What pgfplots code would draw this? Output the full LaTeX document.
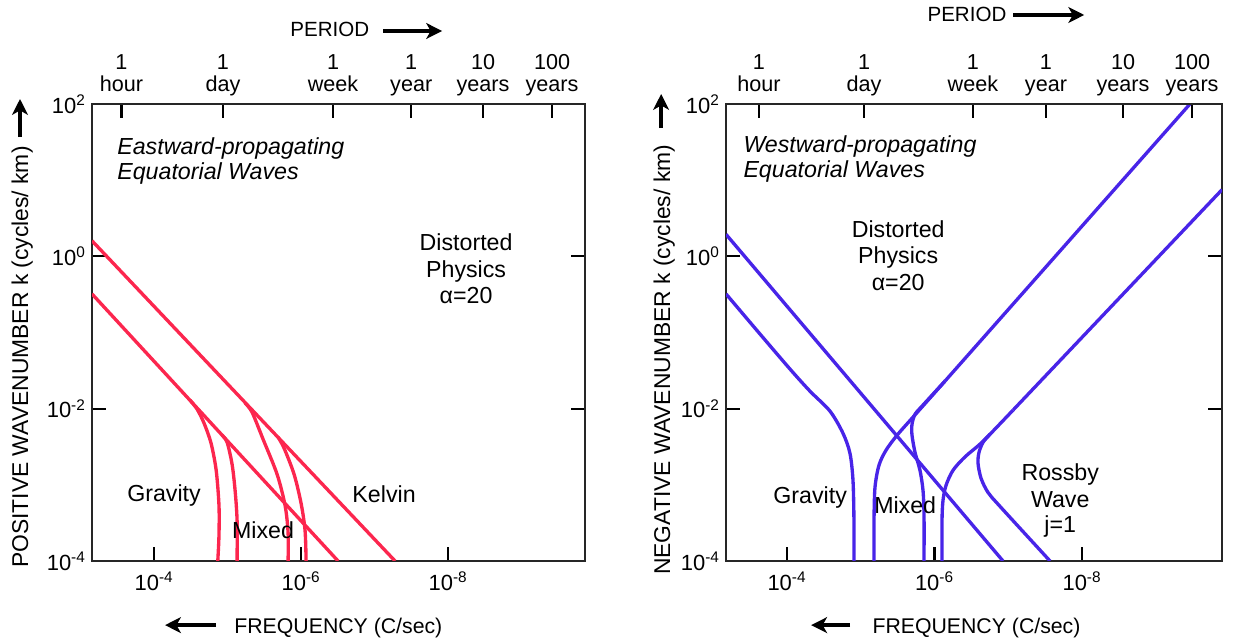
\documentclass[border=0pt]{standalone}
\usepackage{fontspec}
\setmainfont{Liberation Sans}
\usepackage{pgfplots}
\pgfplotsset{compat=1.18}
\usetikzlibrary{arrows.meta}

\definecolor{eastred}{RGB}{252,38,78}
\definecolor{westblue}{RGB}{72,36,232}

\newcommand\tickfont{\fontsize{12.5}{13}\selectfont}
\newcommand\perfont{\fontsize{12.3}{12.6}\selectfont}
\newcommand\labfont{\fontsize{13.2}{15}\selectfont}
\newcommand\labit{\fontsize{13.2}{15}\selectfont\itshape}
\newcommand\ylabfont{\fontsize{13}{15}\selectfont}
\newcommand\xlabfont{\fontsize{12.1}{14}\selectfont}
\newcommand\perhead{\fontsize{11.7}{14}\selectfont}

\tikzset{
  eastline/.style={eastred, line width=1.9pt},
  westline/.style={westblue, line width=1.9pt},
  bigarrow/.style={line width=2.1pt, -{Stealth[length=9pt,width=9pt,inset=2.5pt]}},
}

\begin{document}
\begin{tikzpicture}
\path[use as bounding box] (0,0) rectangle (24.66,12.8);

% eastward waves
\begin{axis}[
  at={(1.84cm,1.58cm)}, anchor=south west, scale only axis,
  width=9.86cm, height=9.14cm,
  xmode=log, ymode=log, x dir=reverse,
  xmin=1.37e-10, xmax=7e-4, ymin=1e-4, ymax=1e2,
  xtick={1e-4,1e-6,1e-8},
  xticklabels={10\textsuperscript{-4},10\textsuperscript{-6},10\textsuperscript{-8}},
  ytick={1e-4,1e-2,1,1e2},
  yticklabels={10\textsuperscript{-4},10\textsuperscript{-2},10\textsuperscript{0},10\textsuperscript{2}},
  xtick pos=lower, yticklabel pos=left,
  tick align=inside, major tick length=0.28cm,
  minor tick num=0,
  tick style={line width=1.2pt, black},
  axis line style={line width=1pt, black!85},
  ticklabel style={font=\tickfont},
  xticklabel style={yshift=-0.1cm},
]
\addplot[eastline] coordinates {(7e-4,1.60) (5.26e-8,1e-4)};
\addplot[eastline] coordinates {(7e-4,0.321) (3.14e-7,1e-4)};
\addplot[eastline, smooth] coordinates {
  (3.24e-5,1.29e-2) (2.60e-5,9.84e-3) (2.09e-5,6.44e-3) (1.68e-5,3.52e-3)
  (1.43e-5,1.55e-3) (1.31e-5,5.37e-4) (1.31e-5,2.17e-4) (1.36e-5,1e-4)};
\addplot[eastline, smooth] coordinates {
  (1.19e-5,4.48e-3) (1.016e-5,3.62e-3) (8.69e-6,1.862e-3) (7.91e-6,8.47e-4)
  (7.43e-6,3.41e-4) (7.43e-6,1e-4)};
\addplot[eastline, smooth] coordinates {
  (5.78e-6,1.18e-2) (4.65e-6,8.99e-3) (3.29e-6,3.97e-3) (2.12e-6,1.374e-3)
  (1.652e-6,5.37e-4) (1.503e-6,2.371e-4) (1.503e-6,1e-4)};
\addplot[eastline, smooth] coordinates {
  (2.056e-6,4.22e-3) (1.702e-6,3.02e-3) (1.245e-6,1.374e-3) (1.0e-6,5.71e-4)
  (8.83e-7,2.52e-4) (8.55e-7,1e-4)};
\end{axis}
% period scale on top
\begin{axis}[
  at={(1.84cm,1.58cm)}, anchor=south west, scale only axis,
  width=9.86cm, height=9.14cm,
  xmode=log, x dir=reverse, xmin=1.37e-10, xmax=7e-4, ymin=0, ymax=1,
  axis x line*=top, axis y line=none,
  xtick={2.78e-4,1.157e-5,3.67e-7,3.17e-8,3.34e-9,3.85e-10},
  xticklabels={{1\\hour},{1\\day},{1\\week},{1\\year},{10\\years},{100\\years}},
  xticklabel style={align=center, font=\perfont, text depth=0.22em, yshift=0.05cm},
  tick align=inside, major tick length=0.28cm, minor tick num=0,
  tick style={line width=1.2pt, black},
  axis line style={line width=1pt, black!85},
]
\addplot[draw=none] coordinates {(1e-5,0.5)};
\end{axis}

% westward waves
\begin{axis}[
  at={(14.52cm,1.58cm)}, anchor=south west, scale only axis,
  width=9.92cm, height=9.14cm,
  xmode=log, ymode=log, x dir=reverse,
  xmin=1.265e-10, xmax=6.71e-4, ymin=1e-4, ymax=1e2,
  xtick={1e-4,1e-6,1e-8},
  xticklabels={10\textsuperscript{-4},10\textsuperscript{-6},10\textsuperscript{-8}},
  ytick={1e-4,1e-2,1,1e2},
  yticklabels={10\textsuperscript{-4},10\textsuperscript{-2},10\textsuperscript{0},10\textsuperscript{2}},
  xtick pos=lower, yticklabel pos=left,
  tick align=inside, major tick length=0.28cm,
  minor tick num=0,
  tick style={line width=1.2pt, black},
  axis line style={line width=1pt, black!85},
  ticklabel style={font=\tickfont},
  xticklabel style={yshift=-0.1cm},
]
\addplot[westline] coordinates {(6.71e-4,1.945) (1.178e-7,1e-4)};
\addplot[westline, smooth] coordinates {
  (6.71e-4,0.321) (2.323e-4,9.55e-2) (9.10e-5,3.31e-2) (4.88e-5,1.698e-2)
  (2.61e-5,9.27e-3) (1.742e-5,4.76e-3) (1.400e-5,2.594e-3) (1.274e-5,1.146e-3)
  (1.236e-5,3.41e-4) (1.236e-5,1e-4)};
\addplot[westline, smooth] coordinates {
  (6.61e-6,1e-4) (6.61e-6,3.41e-4) (6.41e-6,9.27e-4) (5.66e-6,1.807e-3)
  (4.55e-6,2.84e-3) (3.22e-6,4.48e-3) (1.959e-6,7.73e-3) (7.21e-7,2.301e-2)};
\addplot[westline] coordinates {(7.21e-7,2.301e-2) (3.44e-10,1e2)};
\addplot[westline, smooth] coordinates {
  (1.387e-6,1e-4) (1.387e-6,3.97e-4) (1.432e-6,8.47e-4) (1.574e-6,1.552e-3)
  (1.837e-6,2.661e-3) (2.018e-6,4.48e-3) (2.018e-6,6.25e-3) (1.837e-6,8.47e-3)
  (1.476e-6,1.079e-2) (7.21e-7,2.301e-2)};
\addplot[westline, smooth] coordinates {
  (7.91e-7,1e-4) (7.91e-7,3.41e-4) (7.67e-7,6.25e-4) (6.98e-7,9.84e-4)
  (5.61e-7,1.552e-3) (3.85e-7,2.333e-3) (2.198e-7,3.73e-3) (8.63e-8,9.55e-3)};
\addplot[westline] coordinates {(8.63e-8,9.55e-3) (1.265e-10,7.50)};
\addplot[westline, smooth] coordinates {
  (1.766e-7,4.61e-3) (2.198e-7,3.62e-3) (2.495e-7,2.661e-3) (2.570e-7,1.919e-3)
  (2.339e-7,1.219e-3) (1.884e-7,7.96e-4) (1.294e-7,5.21e-4) (2.716e-8,1e-4)};
\end{axis}
\begin{axis}[
  at={(14.52cm,1.58cm)}, anchor=south west, scale only axis,
  width=9.92cm, height=9.14cm,
  xmode=log, x dir=reverse, xmin=1.265e-10, xmax=6.71e-4, ymin=0, ymax=1,
  axis x line*=top, axis y line=none,
  xtick={2.4e-4,9.0e-6,3.01e-7,3.08e-8,2.78e-9,3.22e-10},
  xticklabels={{1\\hour},{1\\day},{1\\week},{1\\year},{10\\years},{100\\years}},
  xticklabel style={align=center, font=\perfont, text depth=0.22em, yshift=0.05cm},
  tick align=inside, major tick length=0.28cm, minor tick num=0,
  tick style={line width=1.2pt, black},
  axis line style={line width=1pt, black!85},
]
\addplot[draw=none] coordinates {(1e-5,0.5)};
\end{axis}

% texts, placed in pixel units of the 1233 x 640 picture
\begin{scope}[x=0.02cm, y=-0.02cm, yshift=12.8cm, every node/.style={inner sep=0pt}]
\node[anchor=base west, font=\labit] at (117,154) {Eastward-propagating};
\node[anchor=base west, font=\labit] at (117,179) {Equatorial Waves};
\node[anchor=base, font=\labfont] at (466,250) {Distorted};
\node[anchor=base, font=\labfont] at (466,277) {Physics};
\node[anchor=base, font=\labfont] at (466,303) {α=20};
\node[anchor=base, font=\labfont] at (164,501) {Gravity};
\node[anchor=base, font=\labfont] at (263,538) {Mixed};
\node[anchor=base, font=\labfont] at (384,502) {Kelvin};

\node[anchor=base west, font=\labit] at (743,152) {Westward-propagating};
\node[anchor=base west, font=\labit] at (743,177) {Equatorial Waves};
\node[anchor=base, font=\labfont] at (898,237) {Distorted};
\node[anchor=base, font=\labfont] at (898,263) {Physics};
\node[anchor=base, font=\labfont] at (898,290) {α=20};
\node[anchor=base, font=\labfont] at (810,503) {Gravity};
\node[anchor=base, font=\labfont] at (905,513) {Mixed};
\node[anchor=base, font=\labfont] at (1060,480) {Rossby};
\node[anchor=base, font=\labfont] at (1060,507) {Wave};
\node[anchor=base, font=\labfont] at (1060,532) {j=1};

% axis titles
\node[anchor=base west, font=\perhead] at (290,37) {PERIOD};
\draw[bigarrow] (383,31) -- (442,31);
\node[anchor=base west, font=\perhead] at (927,22) {PERIOD};
\draw[bigarrow] (1013,15) -- (1084,15);

\node[anchor=base west, font=\xlabfont] at (234,633) {FREQUENCY (C/sec)};
\draw[bigarrow] (216,625) -- (165,625);
\node[anchor=base west, font=\xlabfont] at (872,633) {FREQUENCY (C/sec)};
\draw[bigarrow] (850,625) -- (811,625);

\node[rotate=90, anchor=base west, font=\ylabfont] at (28,568) {POSITIVE WAVENUMBER k (cycles/ km)};
\draw[bigarrow] (20,137) -- (20,99);
\node[rotate=90, anchor=base west, font=\ylabfont] at (670,575) {NEGATIVE WAVENUMBER k (cycles/ km)};
\draw[bigarrow] (661,128) -- (661,94);
\end{scope}
\end{tikzpicture}
\end{document}
